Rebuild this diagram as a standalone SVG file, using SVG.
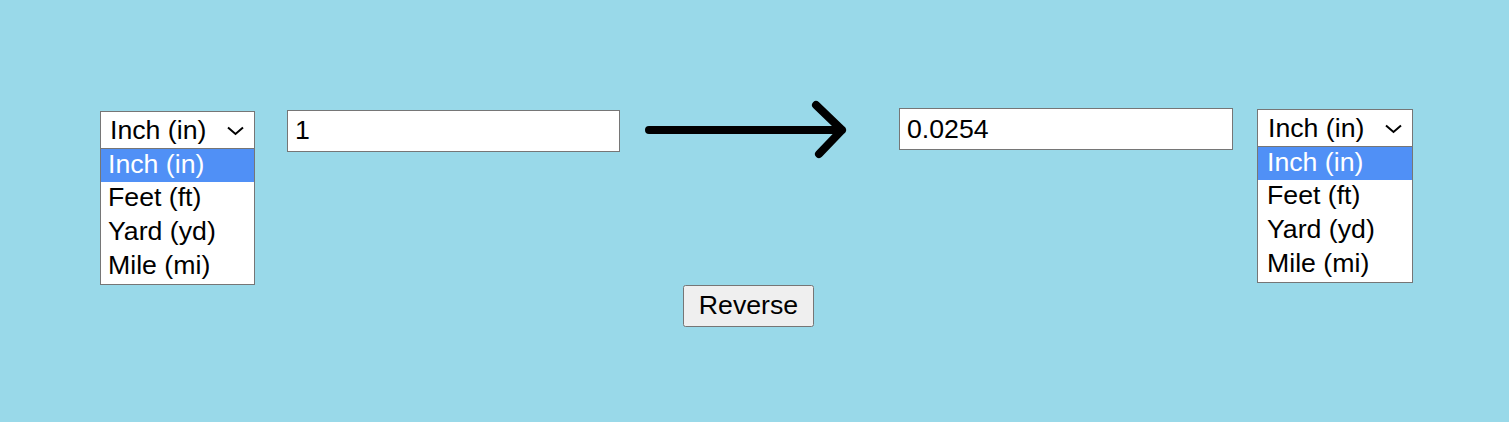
<svg xmlns="http://www.w3.org/2000/svg" width="1509" height="422" viewBox="0 0 1509 422">
<style>
text{font-family:"Liberation Sans",Arial,sans-serif;font-size:26.7px;fill:#000}
.box{fill:#fff;stroke:#767676;stroke-width:1}
.hl{fill:#5090F6}
.sel{fill:#fff}
.chev{fill:none;stroke:#000;stroke-width:2}
</style>
<rect width="1509" height="422" fill="#99D9E9"/>
<g id="from-select">
<rect class="box" x="100.5" y="111.5" width="154" height="37"/>
<text x="110" y="139">Inch (in)</text>
<path class="chev" d="M228 127.5 L235.5 134 L243 127.5"/>
</g>
<g id="from-list">
<rect class="box" x="100.5" y="148.5" width="154" height="136"/>
<rect class="hl" x="101" y="149" width="153" height="33"/>
<text x="108" y="172.5" class="sel">Inch (in)</text>
<text x="108" y="206">Feet (ft)</text>
<text x="108" y="240">Yard (yd)</text>
<text x="108" y="274">Mile (mi)</text>
</g>
<g id="from-input">
<rect class="box" x="287.5" y="110.5" width="332" height="41"/>
<text x="295" y="139">1</text>
</g>
<g id="connectors">
<path d="M649 130 L842 130 M816 105 L842 130 L819 154" fill="none" stroke="#000" stroke-width="8" stroke-linecap="round" stroke-linejoin="round"/>
</g>
<g id="to-input">
<rect class="box" x="899.5" y="108.5" width="333" height="41"/>
<text x="907" y="137.5">0.0254</text>
</g>
<g id="to-select">
<rect class="box" x="1257.5" y="109.5" width="155" height="37"/>
<text x="1268" y="137">Inch (in)</text>
<path class="chev" d="M1386 125.5 L1393.5 132 L1401 125.5"/>
</g>
<g id="to-list">
<rect class="box" x="1257.5" y="146.5" width="155" height="136"/>
<rect class="hl" x="1258" y="147" width="154" height="33"/>
<text x="1267" y="170.5" class="sel">Inch (in)</text>
<text x="1267" y="204">Feet (ft)</text>
<text x="1267" y="238">Yard (yd)</text>
<text x="1267" y="272">Mile (mi)</text>
</g>
<g id="reverse-button">
<rect x="683.5" y="285.5" width="130" height="41" rx="2" fill="#efefef" stroke="#767676"/>
<text x="748.5" y="314" text-anchor="middle">Reverse</text>
</g>
</svg>
